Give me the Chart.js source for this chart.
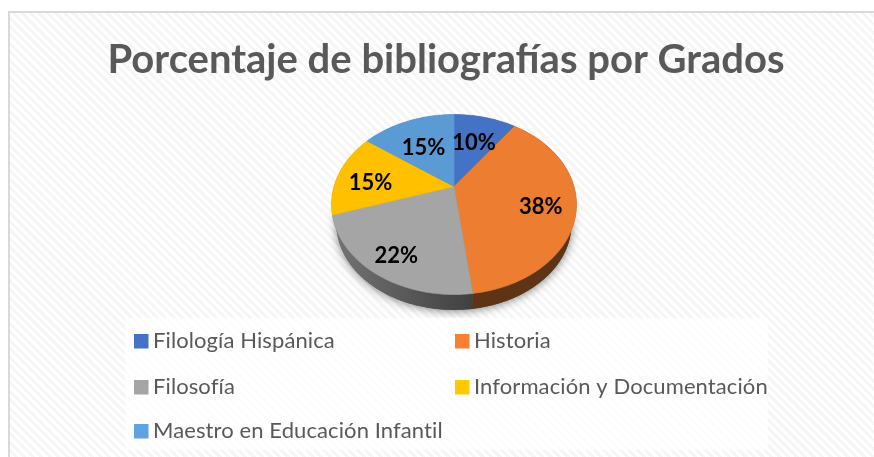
<!DOCTYPE html>
<html><head><meta charset="utf-8">
<style>
html,body{margin:0;padding:0;background:#fff;overflow:hidden}
#panel{position:absolute;left:8px;top:11px;width:866px;height:446px;box-sizing:border-box;border-left:2px solid #d9d9d9;border-top:2px solid #d9d9d9;
background:repeating-linear-gradient(45deg,#fff 0,#fff 3px,#f6f6f6 3px,#f6f6f6 6px)}
#wrap{position:absolute;left:0;top:0;width:874px;height:457px}
</style></head><body>
<div id="panel"></div>
<div id="wrap"><canvas id="c" width="874" height="457"></canvas></div>
<script src="https://cdn.jsdelivr.net/npm/chart.js@4"></script>
<script>
const chartTitle = 'Porcentaje de bibliografías por Grados';
const categories = ['Filología Hispánica','Historia','Filosofía','Información y Documentación','Maestro en Educación Infantil'];
const values = [10,38,22,15,15];
const sliceColors = ['#4472c4','#ed7d31','#a5a5a5','#ffc000','#5b9bd5'];
const legendColors = ['#4472c4','#f98033','#a5a5a5','#ffc800','#5fa3e0'];
const labelRatios = [0.6,0.72,0.78,0.72,0.62];
const labelNudges = [1,4,4,6,4];

// Perspective of the tilted pie, in units of the library's radius
const P = {a:120/90, b:1, k:-0.2, c:-0.2};
function project(el, ang, rho){
  const th = ang + Math.PI/2, r = el.outerRadius;
  const x = rho*Math.sin(th), y = -rho*Math.cos(th);
  const d = 1 + P.k*y;
  return {x: el.x + r*P.a*x/d, y: el.y + r*(P.b*y+P.c)/d};
}
function rim(el, a0, a1){
  const n = Math.max(2, Math.ceil((a1-a0)/(Math.PI/180))), pts = [];
  for(let i=0;i<=n;i++) pts.push(project(el, a0+(a1-a0)*i/n, 1));
  return pts;
}
function low(el, p){ // the lower edge of the pie's side wall
  const s = 0.96, d = 19;
  return {x: el.x+(p.x-el.x)*s, y: el.y+(p.y-el.y)*s+d};
}
const tiltedPie = {
  id:'tiltedPie',
  afterLayout(chart){ chart.titleBlock.left = 8; chart.titleBlock.right = 884; },
  beforeDatasetDraw(){ return false; },
  afterDatasetsDraw(chart){
    const ctx = chart.ctx, arcs = chart.getDatasetMeta(0).data;
    const el0 = arcs[0];
    ctx.save();
    // soft shadow beneath the wall
    ctx.save();
    ctx.shadowColor='rgba(0,0,0,.5)'; ctx.shadowBlur=10; ctx.shadowOffsetY=1;
    ctx.fillStyle='#555';
    ctx.beginPath();
    rim(el0,-Math.PI/2,1.5*Math.PI).map(p=>low(el0,p)).forEach((p,i)=>i?ctx.lineTo(p.x,p.y):ctx.moveTo(p.x,p.y));
    ctx.closePath(); ctx.fill();
    ctx.restore();
    // side walls
    arcs.forEach((el,i)=>{
      const pts = rim(el, el.startAngle, el.endAngle);
      const lows = pts.map(p=>low(el,p)).reverse();
      const xs = pts.map(p=>p.x);
      let fill;
      if(i===2){
        fill = ctx.createLinearGradient(Math.min(...xs),0,Math.max(...xs),0);
        fill.addColorStop(0,'#747474'); fill.addColorStop(.5,'#5a5a5a'); fill.addColorStop(1,'#3f4040');
      } else fill = i===1 ? '#5f3414' : '#777';
      ctx.fillStyle = fill;
      ctx.beginPath();
      pts.concat(lows).forEach((p,j)=>j?ctx.lineTo(p.x,p.y):ctx.moveTo(p.x,p.y));
      ctx.closePath(); ctx.fill();
    });
    // top faces
    arcs.forEach((el,i)=>{
      const apex = project(el, 0, 0);
      ctx.fillStyle = sliceColors[i];
      ctx.strokeStyle = sliceColors[i];
      ctx.lineWidth = .6;
      ctx.beginPath(); ctx.moveTo(apex.x,apex.y);
      rim(el, el.startAngle, el.endAngle).forEach(p=>ctx.lineTo(p.x,p.y));
      ctx.closePath(); ctx.fill(); ctx.stroke();
    });
    // value labels
    ctx.fillStyle='#000'; ctx.font='bold 22px Lato'; ctx.textAlign='center'; ctx.textBaseline='middle';
    arcs.forEach((el,i)=>{
      const p = project(el,(el.startAngle+el.endAngle)/2,labelRatios[i]);
      ctx.fillText(values[i]+'%',p.x,p.y+labelNudges[i]);
    });
    ctx.restore();
    // legend
    ctx.save();
    ctx.fillStyle='rgba(255,255,255,.72)';
    ctx.fillRect(125,318,643,132);
    const cols=[134,455], rows=[334,380,424];
    ctx.font='22px Lato'; ctx.letterSpacing='0.1px'; ctx.textAlign='left'; ctx.textBaseline='middle';
    categories.forEach((name,i)=>{
      const x=cols[i%2], y=rows[Math.floor(i/2)];
      ctx.fillStyle=legendColors[i]; ctx.fillRect(x,y,14.5,14.5);
      ctx.fillStyle='#595959'; ctx.fillText(name,x+19,y+7);
    });
    ctx.restore();
  }
};
new Chart(document.getElementById('c'),{
  type:'pie',
  data:{labels:categories,datasets:[{data:values,backgroundColor:sliceColors,borderWidth:0}]},
  options:{
    responsive:false,animation:false,
    layout:{padding:{left:364,right:330,top:0,bottom:162.5}},
    plugins:{
      legend:{display:false},tooltip:{enabled:false},
      title:{display:true,text:chartTitle,color:'#595959',font:{family:'Lato',size:40,weight:'bold',lineHeight:1.2},padding:{top:36,bottom:30.5}}
    }
  },
  plugins:[tiltedPie]
});
</script>
</body></html>
